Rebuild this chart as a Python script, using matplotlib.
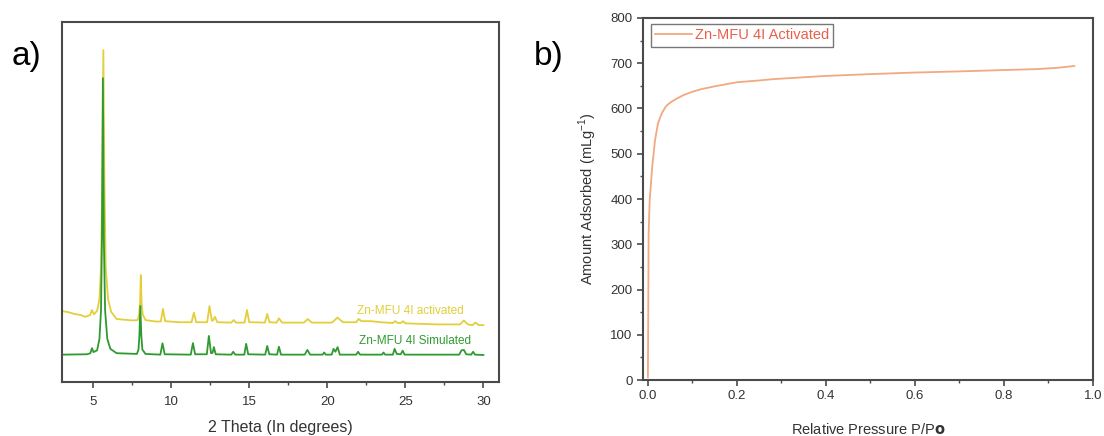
import matplotlib
matplotlib.use("Agg")
import matplotlib.pyplot as plt
from matplotlib.ticker import MultipleLocator

plt.rcParams['font.family'] = ['Liberation Sans', 'DejaVu Sans']

# ---------------- Panel a: PXRD ----------------
sim_x = [3.0, 4.6, 4.82, 4.92, 5.02, 5.25, 5.4, 5.5, 5.56, 5.62, 5.68, 5.76, 5.9, 6.1, 6.5,
         7.8, 7.9, 7.96, 8.02, 8.08, 8.15, 8.35, 9.3, 9.44, 9.58, 11.25, 11.39, 11.53,
         12.28, 12.41, 12.55, 12.65, 12.73, 12.85, 13.85, 13.97, 14.1,
         14.68, 14.8, 14.93, 16.02, 16.15, 16.28, 16.78, 16.9, 17.03,
         18.55, 18.72, 18.9, 19.7, 19.8, 19.9, 20.28, 20.4, 20.52, 20.66, 20.8,
         21.85, 21.97, 22.1, 23.5, 23.6, 23.7, 24.2, 24.31, 24.45, 24.7, 24.83, 24.95,
         28.45, 28.6, 28.75, 28.9, 29.22, 29.34, 29.46, 30.0]
sim_y = [7.6, 7.7, 8.0, 9.4, 8.3, 8.8, 12.0, 20.0, 40.0, 84.4, 40.0, 20.0, 12.0, 9.2, 8.0,
         7.8, 9.0, 13.0, 21.1, 13.0, 9.0, 7.8, 7.6, 10.75, 7.7, 7.6, 10.8, 7.7,
         7.7, 12.8, 8.0, 8.1, 9.7, 7.7, 7.6, 8.4, 7.6,
         7.6, 10.6, 7.7, 7.6, 10.0, 7.7, 7.6, 9.8, 7.6,
         7.6, 8.9, 7.6, 7.6, 8.2, 7.6, 7.6, 9.2, 8.4, 9.7, 7.6,
         7.6, 8.4, 7.6, 7.6, 8.2, 7.6, 7.6, 9.2, 7.8, 7.7, 8.7, 7.6,
         7.6, 8.8, 8.9, 7.7, 7.6, 8.4, 7.6, 7.5]

act_x = [3.0, 3.4, 3.8, 4.2, 4.5, 4.8, 4.92, 5.05, 5.25, 5.4, 5.5, 5.58, 5.65, 5.72, 5.8, 5.95, 6.15,
         6.5, 7.0, 7.5, 7.85, 7.94, 8.0, 8.05, 8.1, 8.17, 8.35, 9.0, 9.33, 9.47, 9.61,
         10.5, 11.3, 11.45, 11.6, 12.3, 12.45, 12.6, 12.68, 12.8, 12.95,
         13.85, 14.0, 14.15, 14.7, 14.85, 15.0, 16.0, 16.15, 16.3, 16.75, 16.9, 17.1,
         18.5, 18.75, 19.0, 20.3, 20.65, 21.0, 21.85, 22.0, 22.2, 22.8, 23.4,
         24.2, 24.35, 24.5, 24.7, 24.85, 25.0, 27.0, 28.5, 28.75, 29.0, 29.3, 29.5, 29.7, 30.0]
act_y = [19.7, 19.4, 18.9, 18.6, 18.1, 18.6, 20.0, 18.8, 19.8, 23.0, 32.0, 55.0, 92.2, 55.0, 32.0, 23.0, 19.5,
         17.5, 17.3, 17.1, 17.2, 18.8, 22.0, 29.7, 22.0, 18.8, 17.2, 16.8, 16.8, 20.3, 16.9,
         16.6, 16.6, 19.25, 16.6, 16.6, 21.1, 17.0, 17.1, 18.1, 16.6,
         16.5, 17.2, 16.5, 16.5, 20.0, 16.6, 16.5, 18.9, 16.6, 16.5, 17.7, 16.5,
         16.5, 17.5, 16.5, 16.5, 17.9, 16.6, 16.6, 17.5, 16.9, 16.9, 16.6,
         16.4, 16.9, 16.4, 16.4, 16.9, 16.3, 16.0, 16.0, 17.1, 16.0, 15.8, 16.5, 15.8, 15.8]

xrd_ticks = [5, 10, 15, 20, 25, 30]

# ---------------- Panel b: isotherm ----------------
p_rel = [0.0, 0.0008, 0.0016, 0.004, 0.0097, 0.016, 0.0226, 0.031, 0.040, 0.045, 0.053,
         0.065, 0.081, 0.1, 0.121, 0.15, 0.2, 0.25, 0.283, 0.4, 0.5, 0.6, 0.7, 0.8,
         0.873, 0.921, 0.958]
amount = [6, 150, 323, 397, 471, 530, 567, 589, 604, 609, 615,
          622, 630, 637, 643, 649, 658, 662, 665, 672, 676, 679.5, 682, 685,
          687, 690, 694]

yellow = '#e2cf3a'
green = '#2f9a2f'
orange = '#f2a880'
legend_red = '#e8604a'
spine_c = '#4a4a4a'
tick_c = '#333333'

fig = plt.figure(figsize=(11.04, 4.36), dpi=100)

axa = fig.add_axes([62/1104, 1-382/436, (499-62)/1104, 360/436])
axa.plot(act_x, act_y, color=yellow, lw=1.3)
axa.plot(sim_x, sim_y, color=green, lw=1.3)
axa.set_xlim(3, 31)
axa.set_ylim(0, 100)
axa.set_xticks(xrd_ticks)
axa.xaxis.set_minor_locator(MultipleLocator(2.5))
axa.set_yticks([])
axa.tick_params(axis='x', which='major', direction='out', length=4, width=1.2, pad=6,
                labelsize=9.5, colors=spine_c, labelcolor=tick_c, top=False)
axa.tick_params(axis='x', which='minor', direction='out', length=2.5, width=1.0,
                colors=spine_c, top=False)
for s in axa.spines.values():
    s.set_color(spine_c)
    s.set_linewidth(1.5)
axa.set_xlabel('2 Theta (In degrees)', fontsize=11.5, color=tick_c, labelpad=9)
axa.text(21.9, 19.7, 'Zn-MFU 4I activated', color=yellow, fontsize=8.5, va='center', ha='left')
axa.text(22.0, 11.4, 'Zn-MFU 4I Simulated', color=green, fontsize=8.5, va='center', ha='left')

axb = fig.add_axes([643/1104, 1-380/436, (1093-643)/1104, 362/436])
axb.plot(p_rel, amount, color=orange, lw=1.3, label='Zn-MFU 4I Activated')
axb.set_xlim(-0.011, 1.0)
axb.set_ylim(0, 800)
axb.xaxis.set_major_locator(MultipleLocator(0.2))
axb.xaxis.set_minor_locator(MultipleLocator(0.1))
axb.yaxis.set_major_locator(MultipleLocator(100))
axb.yaxis.set_minor_locator(MultipleLocator(50))
axb.xaxis.set_major_formatter(matplotlib.ticker.FormatStrFormatter('%.1f'))
axb.tick_params(which='major', direction='out', length=4, width=1.2,
                labelsize=9.5, colors=spine_c, labelcolor=tick_c, top=False, right=False)
axb.tick_params(which='minor', direction='out', length=2.5, width=1.0,
                colors=spine_c, top=False, right=False)
for s in axb.spines.values():
    s.set_color(spine_c)
    s.set_linewidth(1.5)
axb.set_xlabel(r'Relative Pressure P/P$\mathbf{o}$', fontsize=10.5, color=tick_c, labelpad=14)
axb.set_ylabel(r'Amount Adsorbed (mLg$^{\mathregular{-1}}$)', fontsize=10.5, color=tick_c, labelpad=8)
leg = axb.legend(loc='upper left', bbox_to_anchor=(8/450, 1-6/362), borderaxespad=0,
                 fontsize=10.5, frameon=True, fancybox=False, handlelength=2.5,
                 borderpad=0.3, handletextpad=0.2)
leg.get_frame().set_edgecolor('#555555')
leg.get_frame().set_linewidth(1.0)
for t in leg.get_texts():
    t.set_color(legend_red)

fig.text(12/1104, 371/436, 'a)', fontsize=24, va='baseline', ha='left', color='black')
fig.text(534/1104, 371/436, 'b)', fontsize=24, va='baseline', ha='left', color='black')

fig.savefig('out.png', dpi=100)
